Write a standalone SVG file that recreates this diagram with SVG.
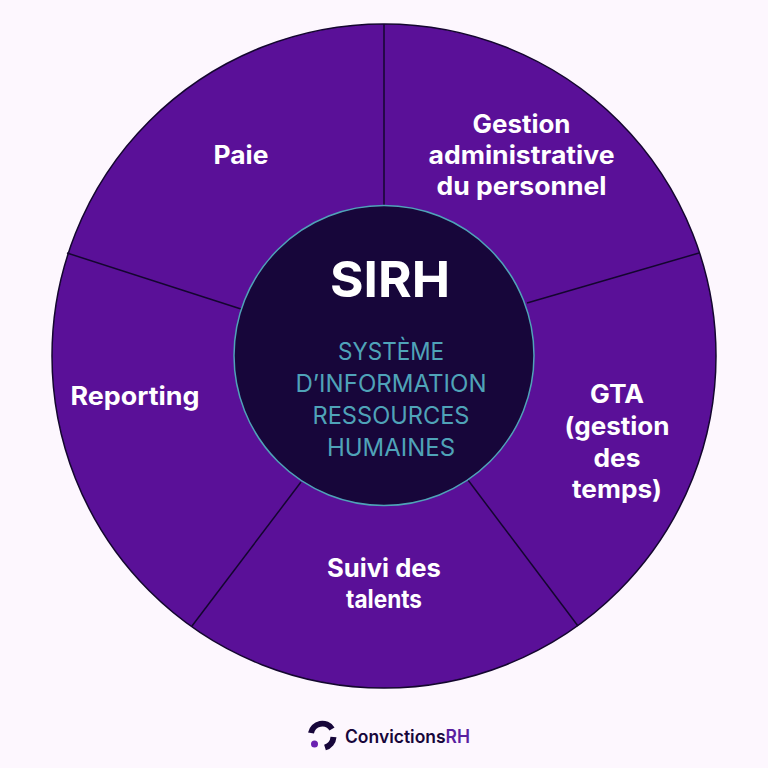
<svg xmlns="http://www.w3.org/2000/svg" width="768" height="768" viewBox="0 0 768 768">
<style>
.l{font-family:"Inter","Liberation Sans",sans-serif;font-weight:700;font-size:25px;fill:#fff;text-anchor:middle}
.s{font-family:"Inter","Liberation Sans",sans-serif;font-weight:400;font-size:24px;fill:#4fa3b8;text-anchor:middle}
.c{fill:none;stroke:#14062f;stroke-width:1.5}
</style>
<rect width="768" height="768" fill="#fdf7fe"/>
<g id="wheel"><circle cx="384" cy="356" r="332" fill="#5a1098" stroke="#14062f" stroke-width="1.500"/></g>
<g id="connectors">
<line class="c" x1="384" y1="24" x2="384" y2="206"/>
<line class="c" x1="699" y1="253" x2="527" y2="303"/>
<line class="c" x1="67" y1="253" x2="241" y2="309"/>
<line class="c" x1="192" y1="626" x2="301" y2="482"/>
<line class="c" x1="578" y1="626" x2="468" y2="480"/>
</g>
<g id="center">
<circle cx="384" cy="355.500" r="150" fill="#17063a" stroke="#4fa3b8" stroke-width="1.500"/>
<text x="390" y="296.500" text-anchor="middle" font-family="Inter,'Liberation Sans',sans-serif" font-weight="700" font-size="50" fill="#fff" textLength="120" lengthAdjust="spacingAndGlyphs">SIRH</text>
<text class="s" x="391" y="359.500" textLength="106" lengthAdjust="spacingAndGlyphs">SYSTÈME</text>
<text class="s" x="391" y="391.500" textLength="191" lengthAdjust="spacingAndGlyphs">D’INFORMATION</text>
<text class="s" x="391" y="423.500" textLength="157" lengthAdjust="spacingAndGlyphs">RESSOURCES</text>
<text class="s" x="391" y="455.500" textLength="128" lengthAdjust="spacingAndGlyphs">HUMAINES</text>
</g>
<g id="paie"><text class="l" x="241" y="164" textLength="55" lengthAdjust="spacingAndGlyphs">Paie</text></g>
<g id="gestion">
<text class="l" x="521.500" y="133" textLength="98" lengthAdjust="spacingAndGlyphs">Gestion</text>
<text class="l" x="521.500" y="164" textLength="186" lengthAdjust="spacingAndGlyphs">administrative</text>
<text class="l" x="521.500" y="195" textLength="170" lengthAdjust="spacingAndGlyphs">du personnel</text>
</g>
<g id="gta">
<text class="l" x="617" y="403" textLength="54" lengthAdjust="spacingAndGlyphs">GTA</text>
<text class="l" x="617" y="435" textLength="105" lengthAdjust="spacingAndGlyphs">(gestion</text>
<text class="l" x="617" y="467" textLength="47" lengthAdjust="spacingAndGlyphs">des</text>
<text class="l" x="617" y="498" textLength="90" lengthAdjust="spacingAndGlyphs">temps)</text>
</g>
<g id="suivi">
<text class="l" x="384" y="577" textLength="114" lengthAdjust="spacingAndGlyphs">Suivi des</text>
<text class="l" x="384" y="608" textLength="76" lengthAdjust="spacingAndGlyphs">talents</text>
</g>
<g id="reporting"><text class="l" x="135" y="405" textLength="129" lengthAdjust="spacingAndGlyphs">Reporting</text></g>
<g id="logo">
<path d="M311 733A11.500 11.500 0 0 1 332 729" fill="none" stroke="#17063a" stroke-width="6"/>
<path d="M333.500 737A12 12 0 0 1 325 747.500" fill="none" stroke="#17063a" stroke-width="6"/>
<circle cx="314.500" cy="744" r="3.500" fill="#6a1fb0"/>
<text x="345" y="743" font-family="Inter,'Liberation Sans',sans-serif" font-weight="600" font-size="18" fill="#17063a" textLength="125" lengthAdjust="spacingAndGlyphs">Convictions<tspan fill="#5a1fa0">RH</tspan></text>
</g>
</svg>
